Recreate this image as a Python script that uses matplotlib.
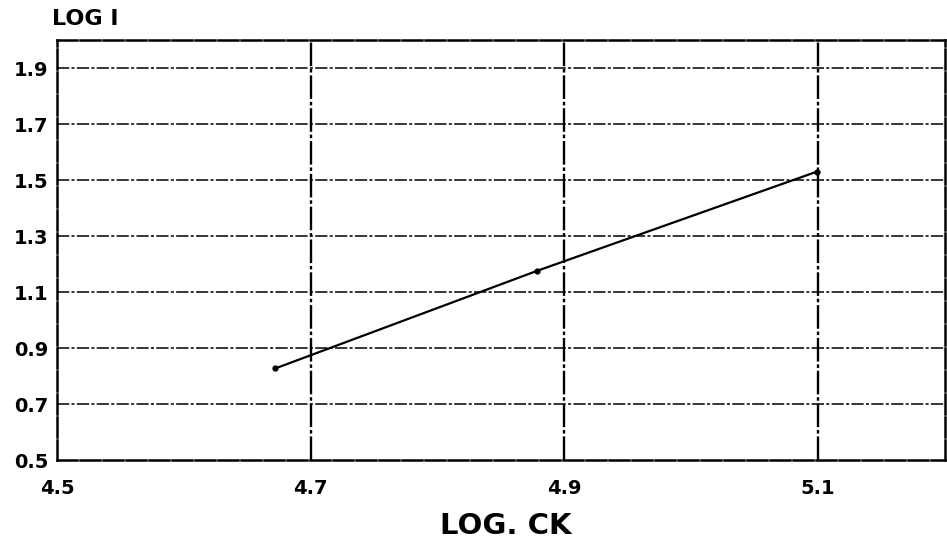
import matplotlib
matplotlib.use("Agg")
import matplotlib.pyplot as plt

plt.rcParams['font.family'] = ['DejaVu Sans']

# Measured points: log concentration vs log intensity
log_ck = [4.672, 4.878, 5.099]
log_i = [0.827, 1.175, 1.530]

x_ticks = [4.5, 4.7, 4.9, 5.1]
x_tick_labels = ["4.5", "4.7", "4.9", "5.1"]
y_ticks = [0.5, 0.7, 0.9, 1.1, 1.3, 1.5, 1.7, 1.9]
y_tick_labels = ["0.5", "0.7", "0.9", "1.1", "1.3", "1.5", "1.7", "1.9"]

fig = plt.figure(figsize=(9.47, 5.41), dpi=100)
ax = fig.add_axes([0.0602, 0.1497, 0.9378, 0.7763])
ax.set_xlim(4.5, 5.2)
ax.set_ylim(0.5, 2.0)

# grid: dashed horizontals, heavier dash-dot verticals
for y in y_ticks[1:]:
    ax.axhline(y, color="black", lw=1.1, ls=(0, (8, 1.5, 2, 1.5)), zorder=1)
for x in x_ticks[1:]:
    ax.axvline(x, color="black", lw=1.7, ls=(0, (10, 1.2, 1.5, 1.2)), zorder=1)

ax.plot(log_ck, log_i, color="black", lw=1.6, marker="o", ms=3.5, zorder=3)

for side, sp in ax.spines.items():
    sp.set_linewidth(1.8)
    sp.set_linestyle((0, (8, 1.2)))

ax.set_xticks(x_ticks)
ax.set_xticklabels(x_tick_labels)
ax.set_yticks(y_ticks)
ax.set_yticklabels(y_tick_labels)
ax.tick_params(length=0, labelsize=14)
for lab in ax.get_xticklabels() + ax.get_yticklabels():
    lab.set_fontweight("bold")
ax.tick_params(axis="y", pad=6)
ax.tick_params(axis="x", pad=14)

fig.text(0.5345, 0.028, "LOG. CK", fontsize=21, fontweight="bold", ha="center", va="center")
fig.text(0.055, 0.964, "LOG I", fontsize=16, fontweight="bold", ha="left", va="center")

fig.savefig("out.png", dpi=100)
